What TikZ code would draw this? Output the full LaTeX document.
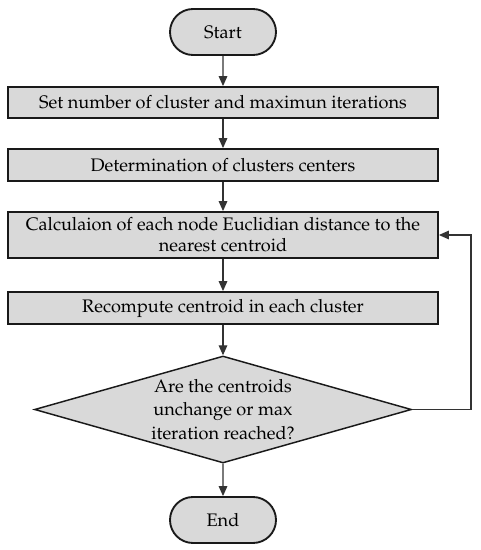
\documentclass[tikz,border=0pt]{standalone}
\usepackage[T1]{fontenc}
\renewcommand{\rmdefault}{ppl}
\usetikzlibrary{shapes.geometric,shapes.misc,arrows.meta}
\begin{document}
\begin{tikzpicture}[x=0.75pt,y=-0.75pt,
  every node/.style={font=\fontsize{13.6}{15.8}\selectfont, text=black},
  term/.style={rounded rectangle, draw=black!90, line width=1.4pt, fill=black!15, minimum width=106*0.75pt, minimum height=46*0.75pt, inner sep=0pt},
  procbox/.style={rectangle, draw=black!90, line width=1.4pt, fill=black!15, minimum width=430*0.75pt, inner sep=0pt, align=center},
  decision/.style={diamond, draw=black!90, line width=1.1pt, fill=black!15, minimum width=377*0.75pt, minimum height=107*0.75pt, inner sep=0pt, aspect=3.5, align=center, font=\fontsize{13.6}{17.5}\selectfont},
  conn/.style={draw=black!80, line width=0.8pt, -{Triangle[length=7.5pt,width=6.5pt]}}
]
\useasboundingbox (0,0) rectangle (480,550);
\node[term] (start) at (223,32) {Start};
\node[procbox, minimum height=31*0.75pt] (b1) at (223,102.5) {Set number of cluster and maximun iterations};
\node[procbox, minimum height=32*0.75pt] (b2) at (223,165) {Determination of clusters centers};
\node[procbox, minimum height=46*0.75pt] (b3) at (223,235) {Calculaion of each node Euclidian distance to the\\nearest centroid};
\node[procbox, minimum height=32*0.75pt] (b4) at (223,308) {Recompute centroid in each cluster};
\node[decision] (dec) at (223,409.5) {Are the centroids\\unchange or max\\iteration reached?};
\node[term] (end) at (223,520) {End};
\coordinate (fb) at (471,235);
\draw[conn] (start) -- (b1);
\draw[conn] (b1) -- (b2);
\draw[conn] (b2) -- (b3);
\draw[conn] (b3) -- (b4);
\draw[conn] (b4) -- (dec);
\draw[conn] (dec) -- (end);
\draw[conn] (dec.east) -| (fb) -- (b3.east);
\end{tikzpicture}
\end{document}
